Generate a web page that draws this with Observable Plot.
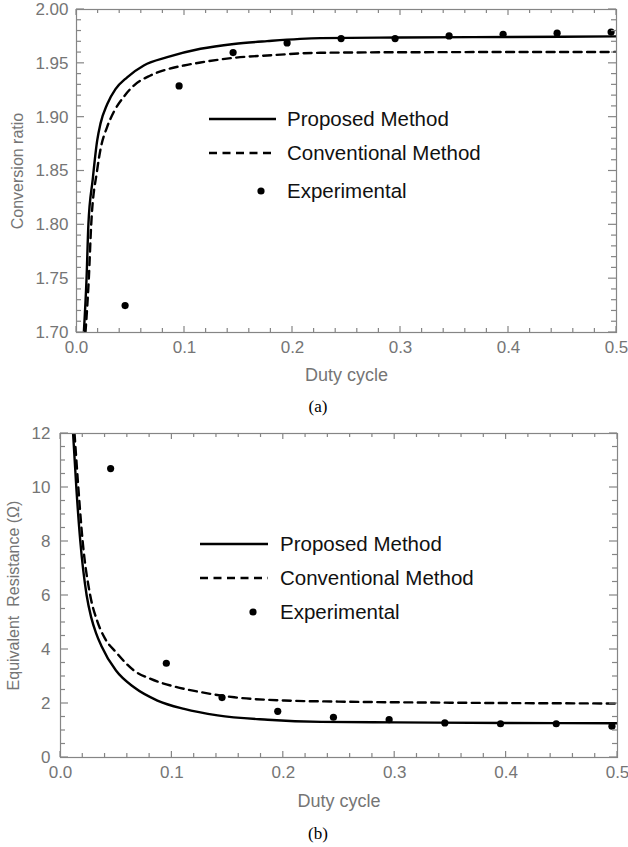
<!DOCTYPE html>
<html><head><meta charset="utf-8">
<script src="https://cdn.jsdelivr.net/npm/d3@7"></script>
<script src="https://cdn.jsdelivr.net/npm/@observablehq/plot@0.6"></script>
<style>
body{margin:0;background:#fff;}
#page{position:relative;width:628px;height:847px;font-family:"Liberation Sans",Arial,sans-serif;}
.chart{position:absolute;left:0;}
.cap{position:absolute;left:0;width:636px;text-align:center;font-family:"Liberation Serif","Times New Roman",serif;font-size:17px;line-height:20px;color:#000;}
#legend{position:absolute;left:0;top:0;pointer-events:none;}
</style></head><body><div id="page"></div>
<script>
// ---- data ----
const seriesNames = ["Proposed Method", "Conventional Method", "Experimental"];
const xLabel = "Duty cycle";
const xTicks = [0, 0.1, 0.2, 0.3, 0.4, 0.5];

// (a) conversion ratio
const ratioLabel = "Conversion ratio";
const ratioTicks = [1.70, 1.75, 1.80, 1.85, 1.90, 1.95, 2.00];
const dutyExp = [0.045, 0.095, 0.145, 0.195, 0.245, 0.295, 0.345, 0.395, 0.445, 0.495];
const ratioExp = [1.725, 1.929, 1.960, 1.969, 1.973, 1.973, 1.9755, 1.977, 1.978, 1.979];
const ratioPropX = [0.0068, 0.0093, 0.011, 0.015, 0.0191, 0.0222, 0.0284, 0.0361, 0.0469, 0.0623, 0.084, 0.1148, 0.1457, 0.1765, 0.2259, 0.300, 0.400, 0.500];
const ratioPropY = [1.700, 1.750, 1.800, 1.842, 1.878, 1.894, 1.912, 1.926, 1.937, 1.948, 1.9557, 1.9635, 1.968, 1.9706, 1.9734, 1.974, 1.9745, 1.975];
const ratioConvX = [0.0083, 0.0114, 0.0136, 0.019, 0.0222, 0.0284, 0.0346, 0.0438, 0.0531, 0.0685, 0.084, 0.0994, 0.1148, 0.1457, 0.1765, 0.2259, 0.300, 0.500];
const ratioConvY = [1.700, 1.750, 1.800, 1.850, 1.870, 1.891, 1.905, 1.919, 1.9294, 1.9387, 1.9445, 1.948, 1.9508, 1.9551, 1.9573, 1.9598, 1.9603, 1.9606];

// (b) equivalent resistance
const resLabel = "Equivalent  Resistance (Ω)";
const resTicks = [0, 2, 4, 6, 8, 10, 12];
const resExp = [10.7, 3.49, 2.22, 1.71, 1.49, 1.40, 1.28, 1.25, 1.25, 1.16];
const resPropX = [0.0113, 0.0142, 0.0178, 0.0235, 0.0275, 0.032, 0.0365, 0.0498, 0.066, 0.087, 0.111, 0.141, 0.186, 0.234, 0.300, 0.400, 0.500];
const resPropY = [12, 10, 8, 6, 5.2, 4.6, 4.15, 3.22, 2.60, 2.11, 1.80, 1.56, 1.40, 1.32, 1.30, 1.28, 1.27];
const resConvX = [0.0126, 0.016, 0.0199, 0.0267, 0.033, 0.040, 0.0498, 0.066, 0.081, 0.102, 0.126, 0.156, 0.201, 0.250, 0.350, 0.500];
const resConvY = [12, 10, 8, 6, 5.05, 4.4, 3.90, 3.22, 2.91, 2.63, 2.42, 2.23, 2.11, 2.07, 2.03, 2.00];

// ---- helpers ----
const zip = (xs, ys) => xs.map((x, i) => ({x, y: ys[i]}));
const minorTicks = (lo, hi, step, majors) =>
  d3.range(Math.round((hi - lo) / step) + 1).map(i => +(lo + i * step).toFixed(6))
    .filter(v => !majors.some(m => Math.abs(m - v) < step / 10));

const frameGray = "#858585";
const labelGray = "#757575";
const font = "'Liberation Sans', Arial, sans-serif";
const page = document.getElementById("page");

// inward tick marks on all four sides, positioned through the plot's own scales
function frameTicks(xMaj, xMin, yMaj, yMin) {
  return (index, scales, values, dim) => {
    const {x, y} = scales;
    const L = dim.marginLeft, R = dim.width - dim.marginRight;
    const T = dim.marginTop, B = dim.height - dim.marginBottom;
    const g = d3.create("svg:g").attr("stroke", frameGray).attr("stroke-width", 1.2).attr("fill", "none");
    const seg = (x1, y1, x2, y2) => g.append("line").attr("x1", x1).attr("y1", y1).attr("x2", x2).attr("y2", y2);
    for (const [list, len] of [[xMaj, 6], [xMin, 4]]) for (const t of list) {
      const px = x(t);
      seg(px, B, px, B - len); seg(px, T, px, T + len);
    }
    for (const [list, len] of [[yMaj, 8], [yMin, 5]]) for (const t of list) {
      const py = y(t);
      seg(L, py, L + len, py); seg(R, py, R - len, py);
    }
    return g.node();
  };
}

function chart(o) {
  const xMinor = minorTicks(0, 0.5, 0.02, xTicks);
  const yMinor = minorTicks(o.yTicks[0], o.yTicks[o.yTicks.length - 1], o.yMinorStep, o.yTicks);
  const svg = Plot.plot({
    width: 628, height: o.height,
    marginTop: o.mt, marginRight: o.mr, marginBottom: o.mb, marginLeft: o.ml,
    style: {fontFamily: font, background: "transparent", overflow: "visible"},
    x: {domain: [0, 0.5]},
    y: {domain: o.yDomain},
    marks: [
      Plot.line(o.conv, {x: "x", y: "y", stroke: "#000", strokeWidth: 2.4, strokeDasharray: "8,5.5", curve: "monotone-x", clip: true}),
      Plot.line(o.prop, {x: "x", y: "y", stroke: "#000", strokeWidth: 2.4, curve: "monotone-x", clip: true}),
      Plot.dot(o.exp, {x: "x", y: "y", r: 3.6, fill: "#000", stroke: "none"}),
      frameTicks(xTicks, xMinor, o.yTicks, yMinor),
      Plot.frame({stroke: frameGray, strokeWidth: 1.2}),
      Plot.axisX({anchor: "bottom", ticks: xTicks, tickSize: 0, tickPadding: 8, tickFormat: d3.format(".1f"), fill: labelGray, fontSize: 17, label: null}),
      Plot.axisY({anchor: "left", ticks: o.yTicks, tickSize: 0, tickPadding: o.yPad, tickFormat: o.yFormat, fill: labelGray, fontSize: 17, label: null}),
      Plot.text([o.yLabel], {text: d => d, frameAnchor: "left", dx: -o.yLabelDx, rotate: -90, fontSize: o.yLabelSize, fill: labelGray, textAnchor: "middle", lineAnchor: "middle"}),
      Plot.text([xLabel], {text: d => d, frameAnchor: "bottom", dy: o.xLabelDy, fontSize: 18, fill: labelGray, textAnchor: "middle", lineAnchor: "middle"})
    ]
  });
  svg.classList.add("chart");
  svg.style.top = o.top + "px";
  page.appendChild(svg);
}

chart({
  top: 0, height: 392, mt: 9, mr: 12, mb: 60, ml: 76,
  yDomain: [1.70, 2.00], yTicks: ratioTicks, yMinorStep: 0.01, yFormat: d3.format(".2f"), yPad: 8,
  yLabel: ratioLabel, yLabelDx: 59, yLabelSize: 16, xLabelDy: 43,
  prop: zip(ratioPropX, ratioPropY), conv: zip(ratioConvX, ratioConvY), exp: zip(dutyExp, ratioExp)
});
chart({
  top: 400, height: 412, mt: 33, mr: 11, mb: 55, ml: 60,
  yDomain: [0, 12], yTicks: resTicks, yMinorStep: 0.5, yFormat: d3.format("d"), yPad: 10,
  yLabel: resLabel, yLabelDx: 47, yLabelSize: 16, xLabelDy: 44,
  prop: zip(resPropX, resPropY), conv: zip(resConvX, resConvY), exp: zip(dutyExp, resExp)
});

// captions
for (const [txt, cy] of [["(a)", 407], ["(b)", 834]]) {
  const d = document.createElement("div");
  d.className = "cap"; d.textContent = txt; d.style.top = (cy - 10) + "px";
  page.appendChild(d);
}

// legends (in-plot, drawn as an overlay)
const lg = d3.select(page).append("svg").attr("id", "legend").attr("width", 628).attr("height", 847);
function legend(spec) {
  seriesNames.forEach((name, i) => {
    const y = spec.rows[i];
    if (i < 2) {
      lg.append("line").attr("x1", spec.x1).attr("x2", spec.x2).attr("y1", y).attr("y2", y)
        .attr("stroke", "#000").attr("stroke-width", 2.4)
        .attr("stroke-dasharray", i === 1 ? "8,5.5" : null);
    } else {
      lg.append("circle").attr("cx", spec.dotX).attr("cy", y).attr("r", 3.6).attr("fill", "#000");
    }
    lg.append("text").attr("x", spec.tx).attr("y", y).attr("dy", "0.32em")
      .attr("font-family", font).attr("font-size", 20.5).attr("fill", "#111").text(name);
  });
}
legend({x1: 209, x2: 276, tx: 287, dotX: 261, rows: [119, 153, 191]});
legend({x1: 200, x2: 268, tx: 280, dotX: 253, rows: [544, 578, 612]});
</script></body></html>
